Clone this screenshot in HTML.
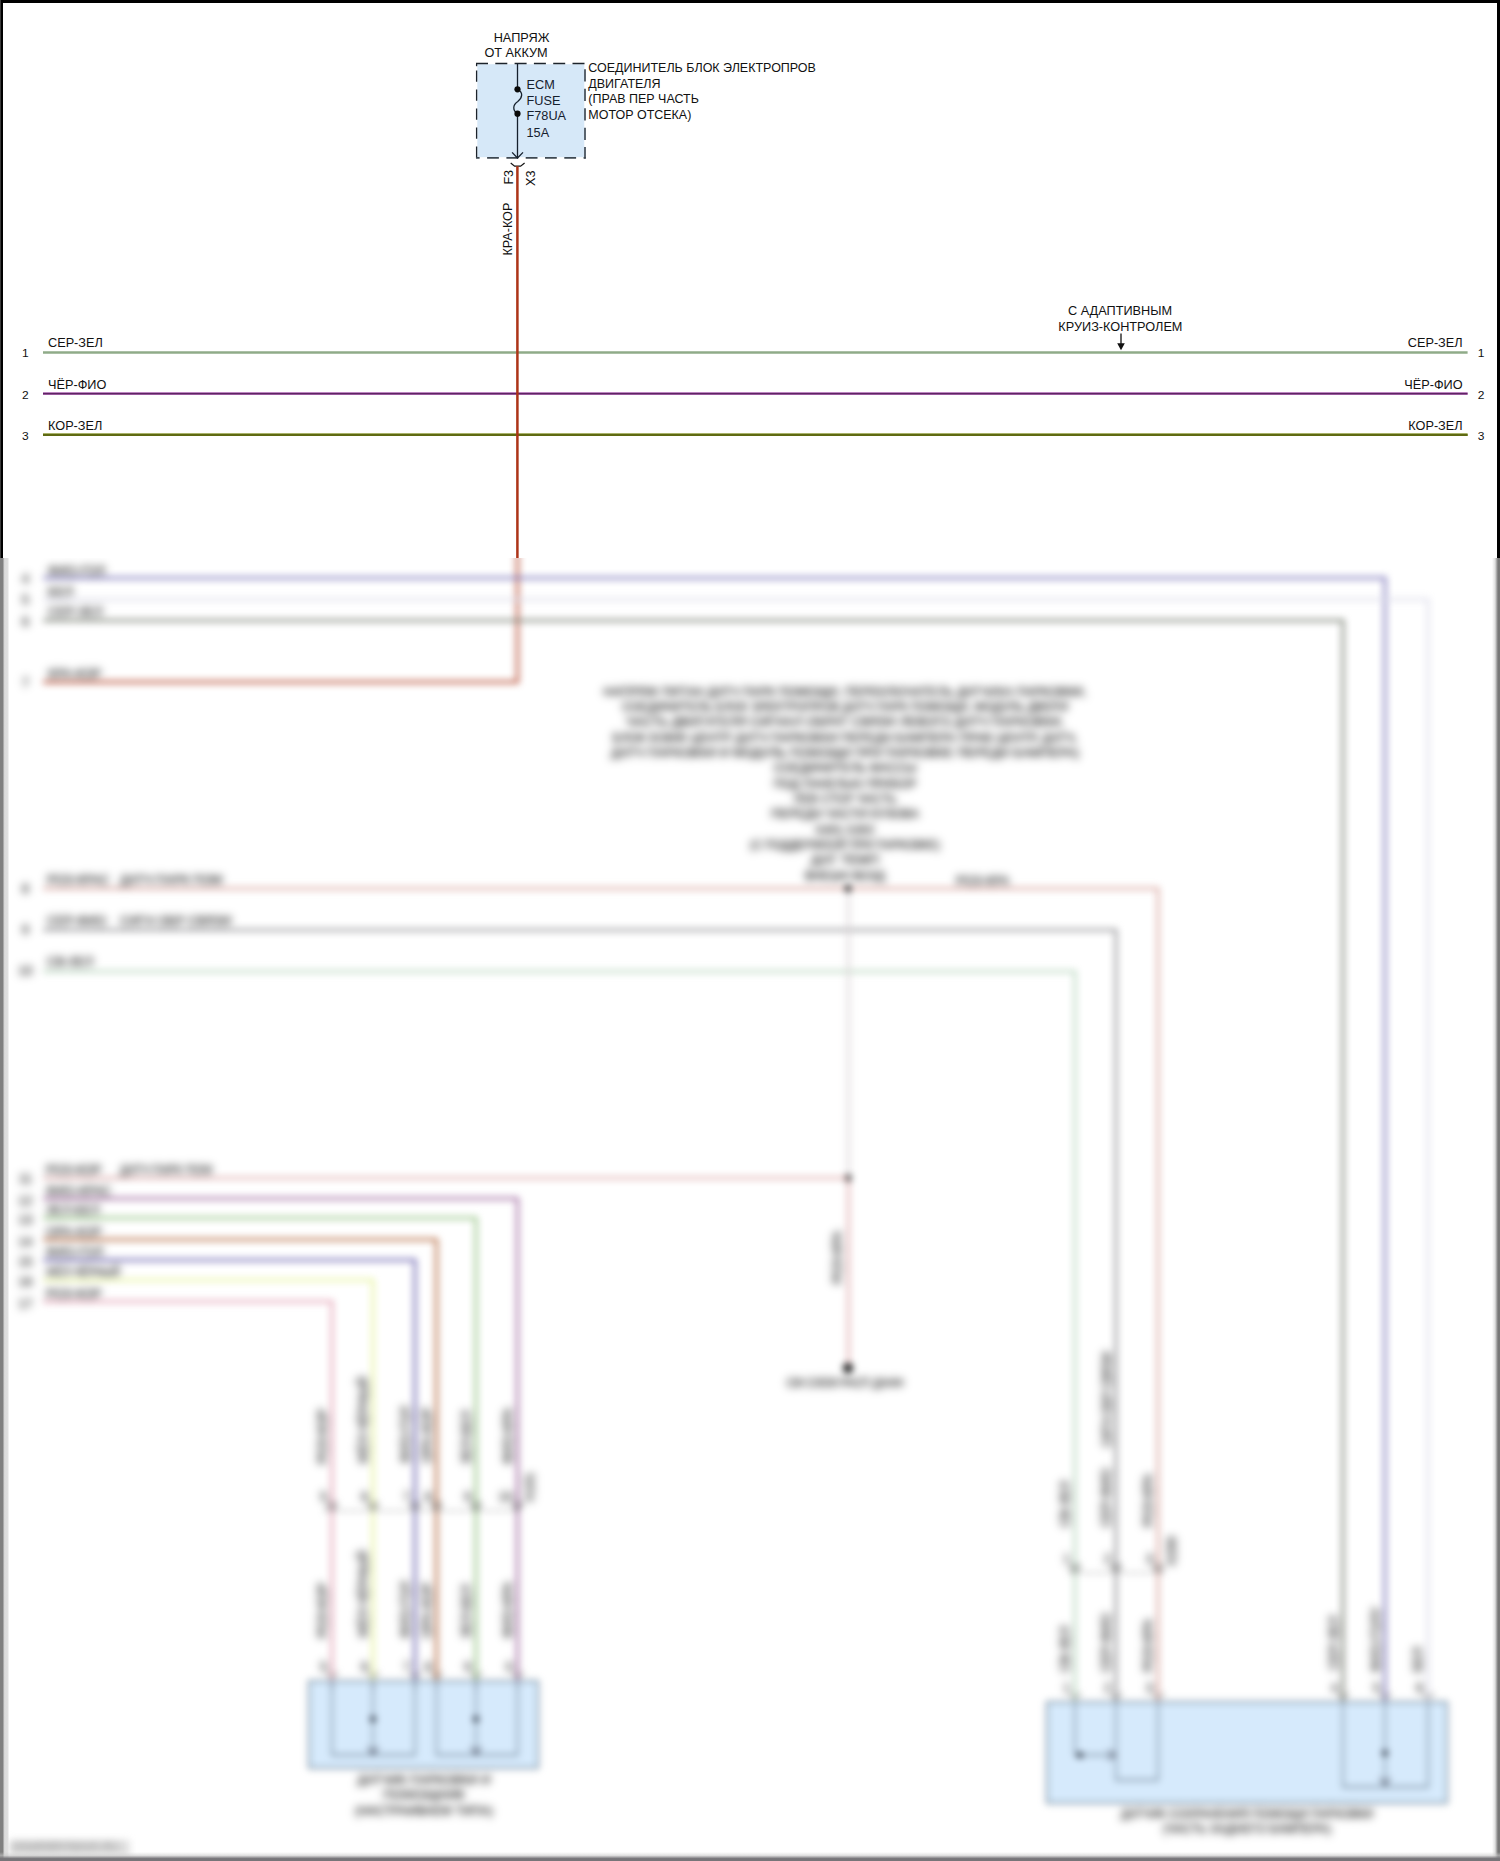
<!DOCTYPE html>
<html><head><meta charset="utf-8"><title>Wiring diagram</title>
<style>
html,body{margin:0;padding:0;background:#fff}
body{width:1500px;height:1861px;position:relative;overflow:hidden;font-family:"Liberation Sans",sans-serif}
svg text{font-family:"Liberation Sans",sans-serif}
.bt text{stroke:#111;stroke-width:0.15px;filter:url(#tb)}
#top{position:absolute;left:0;top:0;width:1500px;height:558px;overflow:hidden}
#bot{position:absolute;left:0;top:558px;width:1500px;height:1303px;overflow:hidden}
#bot .in{position:absolute;left:0;top:-558px;width:1500px;height:1861px}
.bd{position:absolute;background:#000}
</style></head><body>
<div id="top">
<svg width="1500" height="1861" viewBox="0 0 1500 1861" style="position:absolute;left:0;top:0;overflow:visible;">
<rect x="477.3" y="64.2" width="107" height="93" fill="#d6e8f8"/>
<path d="M476 63.5 H585.6" fill="none" stroke="#1c232b" stroke-width="1.3" stroke-dasharray="12 7.3"/>
<path d="M476.6 157.9 V63.5" fill="none" stroke="#1c232b" stroke-width="1.3" stroke-dasharray="11.3 7.75"/>
<path d="M476.6 63.5 V66.2" fill="none" stroke="#1c232b" stroke-width="1.3"/>
<path d="M585 69.3 V158.6" fill="none" stroke="#333f4b" stroke-width="1.6" stroke-dasharray="12.3 7.15"/>
<path d="M476 157.9 H585.8" fill="none" stroke="#3e4852" stroke-width="1.7" stroke-dasharray="11.8 7.5" stroke-dashoffset="8.2"/>
<path d="M517.5 63.3 V89.3" stroke="#15202d" stroke-width="1.3" fill="none"/>
<path d="M517.5 113.7 V157.5" stroke="#15202d" stroke-width="1.3" fill="none"/>
<path d="M517.5 89.3 C523.5 92 522.5 98 517.8 101.5 C512.5 105 512.5 110.5 517.5 113.7" stroke="#15202d" stroke-width="1.3" fill="none"/>
<circle cx="517.5" cy="89.3" r="3.1" fill="#0a0a0a"/>
<circle cx="517.5" cy="113.7" r="3.1" fill="#0a0a0a"/>
<path d="M512.1 152.4 L517.5 158 L523 152.4" stroke="#15202d" stroke-width="1.3" fill="none"/>
<path d="M510.7 163 L514.6 166.2 H520.6 L524.6 163" stroke="#111" stroke-width="1.2" fill="none"/>
<text transform="translate(521.5 42) scale(1.025 1)" text-anchor="middle" font-size="12.4" fill="#111" >НАПРЯЖ</text>
<text transform="translate(516 56.7) scale(1.025 1)" text-anchor="middle" font-size="12.4" fill="#111" >ОТ АККУМ</text>
<text transform="translate(526.5 89.3) scale(1.025 1)" text-anchor="start" font-size="12.4" fill="#15202d" >ECM</text>
<text transform="translate(526.5 104.8) scale(1.025 1)" text-anchor="start" font-size="12.4" fill="#15202d" >FUSE</text>
<text transform="translate(526.5 120.3) scale(1.025 1)" text-anchor="start" font-size="12.4" fill="#15202d" >F78UA</text>
<text transform="translate(526.5 136.7) scale(1.025 1)" text-anchor="start" font-size="12.4" fill="#15202d" >15A</text>
<text transform="translate(588.3 72.2) scale(1 1)" text-anchor="start" font-size="12.4" fill="#111" textLength="227.6" lengthAdjust="spacingAndGlyphs">СОЕДИНИТЕЛЬ БЛОК ЭЛЕКТРОПРОВ</text>
<text transform="translate(588.3 87.7) scale(1 1)" text-anchor="start" font-size="12.4" fill="#111" textLength="72.3" lengthAdjust="spacingAndGlyphs">ДВИГАТЕЛЯ</text>
<text transform="translate(588.3 103.2) scale(1 1)" text-anchor="start" font-size="12.4" fill="#111" textLength="110.6" lengthAdjust="spacingAndGlyphs">(ПРАВ ПЕР ЧАСТЬ</text>
<text transform="translate(588.3 118.7) scale(1 1)" text-anchor="start" font-size="12.4" fill="#111" textLength="103" lengthAdjust="spacingAndGlyphs">МОТОР ОТСЕКА)</text>
<text transform="translate(513.4 184.6) rotate(-90)" text-anchor="start" font-size="12.6" fill="#111">F3</text>
<text transform="translate(534.8 186) rotate(-90)" text-anchor="start" font-size="12.6" fill="#111">X3</text>
<text transform="translate(512.2 255.6) rotate(-90)" text-anchor="start" font-size="12.6" fill="#111">КРА-КОР</text>
<polyline points="43,352.5 1467.6,352.5" fill="none" stroke="#8fab88" stroke-width="2.7" stroke-linejoin="miter" />
<polyline points="43,393.6 1467.6,393.6" fill="none" stroke="#d58ad8" stroke-width="2.8" stroke-linejoin="miter" />
<polyline points="43,393.6 1467.6,393.6" fill="none" stroke="#5e2663" stroke-width="1.7" stroke-linejoin="miter" />
<polyline points="43,434.7 1467.6,434.7" fill="none" stroke="#8c9a3a" stroke-width="2.8" stroke-linejoin="miter" />
<polyline points="43,434.9 1467.6,434.9" fill="none" stroke="#5f6a12" stroke-width="2" stroke-linejoin="miter" />
<text transform="translate(48 347.4) scale(1.025 1)" text-anchor="start" font-size="12.4" fill="#111" >СЕР-ЗЕЛ</text>
<text transform="translate(1462.6 347.4) scale(1.025 1)" text-anchor="end" font-size="12.4" fill="#111" >СЕР-ЗЕЛ</text>
<text transform="translate(48 388.8) scale(1.025 1)" text-anchor="start" font-size="12.4" fill="#111" >ЧЁР-ФИО</text>
<text transform="translate(1462.6 388.8) scale(1.025 1)" text-anchor="end" font-size="12.4" fill="#111" >ЧЁР-ФИО</text>
<text transform="translate(48 430.2) scale(1.025 1)" text-anchor="start" font-size="12.4" fill="#111" >КОР-ЗЕЛ</text>
<text transform="translate(1462.6 430.2) scale(1.025 1)" text-anchor="end" font-size="12.4" fill="#111" >КОР-ЗЕЛ</text>
<text transform="translate(25.4 357.2) scale(1.025 1)" text-anchor="middle" font-size="11.7" fill="#111" >1</text>
<text transform="translate(1481.2 357.2) scale(1.025 1)" text-anchor="middle" font-size="11.7" fill="#111" >1</text>
<text transform="translate(25.4 399.4) scale(1.025 1)" text-anchor="middle" font-size="11.7" fill="#111" >2</text>
<text transform="translate(1481.2 399.4) scale(1.025 1)" text-anchor="middle" font-size="11.7" fill="#111" >2</text>
<text transform="translate(25.4 440.4) scale(1.025 1)" text-anchor="middle" font-size="11.7" fill="#111" >3</text>
<text transform="translate(1481.2 440.4) scale(1.025 1)" text-anchor="middle" font-size="11.7" fill="#111" >3</text>
<text transform="translate(1120 315.1) scale(1.025 1)" text-anchor="middle" font-size="12.4" fill="#111" >С АДАПТИВНЫМ</text>
<text transform="translate(1120.4 330.7) scale(1.025 1)" text-anchor="middle" font-size="12.4" fill="#111" >КРУИЗ-КОНТРОЛЕМ</text>
<path d="M1121 333.5 V345" stroke="#111" stroke-width="1.3"/>
<path d="M1117.2 343.3 H1124.8 L1121 350.3 Z" fill="#111"/>
<polyline points="517.4,166.2 517.4,682 43,682" fill="none" stroke="#ad3418" stroke-width="2.5" stroke-linejoin="miter" />
</svg>
<div class="bd" style="left:0;top:0;width:1500px;height:2.5px"></div>
<div class="bd" style="left:0;top:0;width:2.7px;height:558px"></div>
<div class="bd" style="left:0;top:0;width:0.8px;height:558px;background:#3a3a3a"></div>
<div class="bd" style="left:1497.2px;top:0;width:2.8px;height:558px"></div>
</div>
<div id="bot"><div class="in">
<svg width="1500" height="1861" viewBox="0 0 1500 1861" style="position:absolute;left:0;top:0;overflow:visible;filter:blur(3.5px)">
<rect x="477.3" y="64.2" width="107" height="93" fill="#d6e8f8"/>
<path d="M476 63.5 H585.6" fill="none" stroke="#1c232b" stroke-width="1.3" stroke-dasharray="12 7.3"/>
<path d="M476.6 157.9 V63.5" fill="none" stroke="#1c232b" stroke-width="1.3" stroke-dasharray="11.3 7.75"/>
<path d="M476.6 63.5 V66.2" fill="none" stroke="#1c232b" stroke-width="1.3"/>
<path d="M585 69.3 V158.6" fill="none" stroke="#333f4b" stroke-width="1.6" stroke-dasharray="12.3 7.15"/>
<path d="M476 157.9 H585.8" fill="none" stroke="#3e4852" stroke-width="1.7" stroke-dasharray="11.8 7.5" stroke-dashoffset="8.2"/>
<path d="M517.5 63.3 V89.3" stroke="#15202d" stroke-width="1.3" fill="none"/>
<path d="M517.5 113.7 V157.5" stroke="#15202d" stroke-width="1.3" fill="none"/>
<path d="M517.5 89.3 C523.5 92 522.5 98 517.8 101.5 C512.5 105 512.5 110.5 517.5 113.7" stroke="#15202d" stroke-width="1.3" fill="none"/>
<circle cx="517.5" cy="89.3" r="3.1" fill="#0a0a0a"/>
<circle cx="517.5" cy="113.7" r="3.1" fill="#0a0a0a"/>
<path d="M512.1 152.4 L517.5 158 L523 152.4" stroke="#15202d" stroke-width="1.3" fill="none"/>
<path d="M510.7 163 L514.6 166.2 H520.6 L524.6 163" stroke="#111" stroke-width="1.2" fill="none"/>
<text transform="translate(521.5 42) scale(1.025 1)" text-anchor="middle" font-size="12.4" fill="#111" >НАПРЯЖ</text>
<text transform="translate(516 56.7) scale(1.025 1)" text-anchor="middle" font-size="12.4" fill="#111" >ОТ АККУМ</text>
<text transform="translate(526.5 89.3) scale(1.025 1)" text-anchor="start" font-size="12.4" fill="#15202d" >ECM</text>
<text transform="translate(526.5 104.8) scale(1.025 1)" text-anchor="start" font-size="12.4" fill="#15202d" >FUSE</text>
<text transform="translate(526.5 120.3) scale(1.025 1)" text-anchor="start" font-size="12.4" fill="#15202d" >F78UA</text>
<text transform="translate(526.5 136.7) scale(1.025 1)" text-anchor="start" font-size="12.4" fill="#15202d" >15A</text>
<text transform="translate(588.3 72.2) scale(1 1)" text-anchor="start" font-size="12.4" fill="#111" textLength="227.6" lengthAdjust="spacingAndGlyphs">СОЕДИНИТЕЛЬ БЛОК ЭЛЕКТРОПРОВ</text>
<text transform="translate(588.3 87.7) scale(1 1)" text-anchor="start" font-size="12.4" fill="#111" textLength="72.3" lengthAdjust="spacingAndGlyphs">ДВИГАТЕЛЯ</text>
<text transform="translate(588.3 103.2) scale(1 1)" text-anchor="start" font-size="12.4" fill="#111" textLength="110.6" lengthAdjust="spacingAndGlyphs">(ПРАВ ПЕР ЧАСТЬ</text>
<text transform="translate(588.3 118.7) scale(1 1)" text-anchor="start" font-size="12.4" fill="#111" textLength="103" lengthAdjust="spacingAndGlyphs">МОТОР ОТСЕКА)</text>
<text transform="translate(513.4 184.6) rotate(-90)" text-anchor="start" font-size="12.6" fill="#111">F3</text>
<text transform="translate(534.8 186) rotate(-90)" text-anchor="start" font-size="12.6" fill="#111">X3</text>
<text transform="translate(512.2 255.6) rotate(-90)" text-anchor="start" font-size="12.6" fill="#111">КРА-КОР</text>
<polyline points="43,352.5 1467.6,352.5" fill="none" stroke="#8fab88" stroke-width="2.7" stroke-linejoin="miter" />
<polyline points="43,393.6 1467.6,393.6" fill="none" stroke="#d58ad8" stroke-width="2.8" stroke-linejoin="miter" />
<polyline points="43,393.6 1467.6,393.6" fill="none" stroke="#5e2663" stroke-width="1.7" stroke-linejoin="miter" />
<polyline points="43,434.7 1467.6,434.7" fill="none" stroke="#8c9a3a" stroke-width="2.8" stroke-linejoin="miter" />
<polyline points="43,434.9 1467.6,434.9" fill="none" stroke="#5f6a12" stroke-width="2" stroke-linejoin="miter" />
<text transform="translate(48 347.4) scale(1.025 1)" text-anchor="start" font-size="12.4" fill="#111" >СЕР-ЗЕЛ</text>
<text transform="translate(1462.6 347.4) scale(1.025 1)" text-anchor="end" font-size="12.4" fill="#111" >СЕР-ЗЕЛ</text>
<text transform="translate(48 388.8) scale(1.025 1)" text-anchor="start" font-size="12.4" fill="#111" >ЧЁР-ФИО</text>
<text transform="translate(1462.6 388.8) scale(1.025 1)" text-anchor="end" font-size="12.4" fill="#111" >ЧЁР-ФИО</text>
<text transform="translate(48 430.2) scale(1.025 1)" text-anchor="start" font-size="12.4" fill="#111" >КОР-ЗЕЛ</text>
<text transform="translate(1462.6 430.2) scale(1.025 1)" text-anchor="end" font-size="12.4" fill="#111" >КОР-ЗЕЛ</text>
<text transform="translate(25.4 357.2) scale(1.025 1)" text-anchor="middle" font-size="11.7" fill="#111" >1</text>
<text transform="translate(1481.2 357.2) scale(1.025 1)" text-anchor="middle" font-size="11.7" fill="#111" >1</text>
<text transform="translate(25.4 399.4) scale(1.025 1)" text-anchor="middle" font-size="11.7" fill="#111" >2</text>
<text transform="translate(1481.2 399.4) scale(1.025 1)" text-anchor="middle" font-size="11.7" fill="#111" >2</text>
<text transform="translate(25.4 440.4) scale(1.025 1)" text-anchor="middle" font-size="11.7" fill="#111" >3</text>
<text transform="translate(1481.2 440.4) scale(1.025 1)" text-anchor="middle" font-size="11.7" fill="#111" >3</text>
<text transform="translate(1120 315.1) scale(1.025 1)" text-anchor="middle" font-size="12.4" fill="#111" >С АДАПТИВНЫМ</text>
<text transform="translate(1120.4 330.7) scale(1.025 1)" text-anchor="middle" font-size="12.4" fill="#111" >КРУИЗ-КОНТРОЛЕМ</text>
<path d="M1121 333.5 V345" stroke="#111" stroke-width="1.3"/>
<path d="M1117.2 343.3 H1124.8 L1121 350.3 Z" fill="#111"/>
<polyline points="517.4,166.2 517.4,682 43,682" fill="none" stroke="#ad3418" stroke-width="2.5" stroke-linejoin="miter" />
<defs><filter id="tb" x="-50%" y="-300%" width="200%" height="700%" filterUnits="objectBoundingBox"><feGaussianBlur stdDeviation="2.4"/></filter></defs>
<g class="bt">
<polyline points="43,578 1385,578 1385,1702" fill="none" stroke="#6f69b4" stroke-width="2.6" stroke-linejoin="miter" />
<polyline points="43,599.5 1428,599.5 1428,1702" fill="none" stroke="#dcdcea" stroke-width="2.6" stroke-linejoin="miter" />
<polyline points="43,620.5 1343,620.5 1343,1702" fill="none" stroke="#72786b" stroke-width="2.6" stroke-linejoin="miter" />
<text transform="translate(48 575) scale(1.025 1)" text-anchor="start" font-size="12.4" fill="#111" >ФИО-ГОЛ</text>
<text transform="translate(25.4 583) scale(1.025 1)" text-anchor="middle" font-size="12" fill="#111" >4</text>
<text transform="translate(48 595.5) scale(1.025 1)" text-anchor="start" font-size="12.4" fill="#111" >БЕЛ</text>
<text transform="translate(25.4 604) scale(1.025 1)" text-anchor="middle" font-size="12" fill="#111" >5</text>
<text transform="translate(48 616) scale(1.025 1)" text-anchor="start" font-size="12.4" fill="#111" >СЕР-ЗЕЛ</text>
<text transform="translate(25.4 625.5) scale(1.025 1)" text-anchor="middle" font-size="12" fill="#111" >6</text>
<text transform="translate(48 678.4) scale(1.025 1)" text-anchor="start" font-size="12.4" fill="#111" >КРА-КОР</text>
<text transform="translate(25.4 687) scale(1.025 1)" text-anchor="middle" font-size="12" fill="#111" >7</text>
<text transform="translate(845 695.5) scale(1 1)" text-anchor="middle" font-size="12.4" fill="#111" textLength="483" lengthAdjust="spacingAndGlyphs">НАПРЯЖ ПИТАН ДАТЧ ПАРК ПОМОЩИ, ПЕРЕКЛЮЧАТЕЛЬ ДАТЧИКА ПАРКОВКИ,</text>
<text transform="translate(845 710.85) scale(1 1)" text-anchor="middle" font-size="12.4" fill="#111" textLength="446" lengthAdjust="spacingAndGlyphs">СОЕДИНИТЕЛЬ БЛОК ЭЛЕКТРОПРОВ ДАТЧ ПАРК ПОМОЩИ, МОДУЛЬ ДВЕРИ</text>
<text transform="translate(845 726.2) scale(1 1)" text-anchor="middle" font-size="12.4" fill="#111" textLength="438" lengthAdjust="spacingAndGlyphs">ЧАСТЬ ДВИГАТЕЛЯ СИГНАЛ ОБРАТ СВЯЗИ ЛЕВОГО ДАТЧ ПАРКОВКИ,</text>
<text transform="translate(845 741.55) scale(1 1)" text-anchor="middle" font-size="12.4" fill="#111" textLength="465" lengthAdjust="spacingAndGlyphs">БЛОК КОМФ ЦЕНТР ДАТЧ ПАРКОВКИ ПЕРЕДН БАМПЕРА ПРАВ ЦЕНТР, ДАТЧ,</text>
<text transform="translate(845 756.9) scale(1 1)" text-anchor="middle" font-size="12.4" fill="#111" textLength="468" lengthAdjust="spacingAndGlyphs">ДАТЧ ПАРКОВКИ И МОДУЛЬ ПОМОЩИ ПРИ ПАРКОВКЕ ПЕРЕДН БАМПЕРА)</text>
<text transform="translate(845 772.25) scale(1 1)" text-anchor="middle" font-size="12.4" fill="#111" textLength="143" lengthAdjust="spacingAndGlyphs">СОЕДИНИТЕЛЬ МАССЫ</text>
<text transform="translate(845 787.6) scale(1 1)" text-anchor="middle" font-size="12.4" fill="#111" textLength="143" lengthAdjust="spacingAndGlyphs">ПОД ПАНЕЛЬЮ ПРИБОР</text>
<text transform="translate(845 802.95) scale(1 1)" text-anchor="middle" font-size="12.4" fill="#111" textLength="103" lengthAdjust="spacingAndGlyphs">ЛЕВ СТОР ЧАСТЬ</text>
<text transform="translate(845 818.3) scale(1 1)" text-anchor="middle" font-size="12.4" fill="#111" textLength="148" lengthAdjust="spacingAndGlyphs">ПЕРЕДН ЧАСТИ КУЗОВА</text>
<text transform="translate(845 833.65) scale(1 1)" text-anchor="middle" font-size="12.4" fill="#111" textLength="59" lengthAdjust="spacingAndGlyphs">G301 G302</text>
<text transform="translate(845 849.0) scale(1 1)" text-anchor="middle" font-size="12.4" fill="#111" textLength="190" lengthAdjust="spacingAndGlyphs">(С ПОДДЕРЖКОЙ ПРИ ПАРКОВКЕ)</text>
<text transform="translate(845 864.35) scale(1 1)" text-anchor="middle" font-size="12.4" fill="#111" textLength="68" lengthAdjust="spacingAndGlyphs">ДАТ ТЕМП</text>
<text transform="translate(845 879.7) scale(1 1)" text-anchor="middle" font-size="12.4" fill="#111" textLength="80" lengthAdjust="spacingAndGlyphs">ВНЕШН ВОЗД</text>
<polyline points="43,888.5 1158,888.5 1158,1702" fill="none" stroke="#d8a39c" stroke-width="2.6" stroke-linejoin="miter" />
<polyline points="43,930 1116,930 1116,1702" fill="none" stroke="#8c8c90" stroke-width="2.6" stroke-linejoin="miter" />
<polyline points="43,971.5 1075,971.5 1075,1702" fill="none" stroke="#b4d4ba" stroke-width="2.6" stroke-linejoin="miter" />
<text transform="translate(47 883.5) scale(1.025 1)" text-anchor="start" font-size="12.4" fill="#111" >РОЗ-КРАС</text>
<text transform="translate(120 883.5) scale(1.025 1)" text-anchor="start" font-size="12.4" fill="#111" >ДАТЧ ПАРК ПОМ</text>
<text transform="translate(47 924.5) scale(1.025 1)" text-anchor="start" font-size="12.4" fill="#111" >СЕР-ФИО</text>
<text transform="translate(120 924.5) scale(1.025 1)" text-anchor="start" font-size="12.4" fill="#111" >СИГН ОБР СВЯЗИ</text>
<text transform="translate(47 965.5) scale(1.025 1)" text-anchor="start" font-size="12.4" fill="#111" >СВ-ЗЕЛ</text>
<text transform="translate(956 885) scale(1.025 1)" text-anchor="start" font-size="12.4" fill="#111" >РОЗ-КРА</text>
<text transform="translate(25.4 893) scale(1.025 1)" text-anchor="middle" font-size="12" fill="#111" >8</text>
<text transform="translate(25.4 934) scale(1.025 1)" text-anchor="middle" font-size="12" fill="#111" >9</text>
<text transform="translate(25.4 975) scale(1.025 1)" text-anchor="middle" font-size="12" fill="#111" >10</text>
<polyline points="848.5,888 848.5,1178" fill="none" stroke="#d8d2d4" stroke-width="2.6" stroke-linejoin="miter" />
<polyline points="848.5,1178 848.5,1368" fill="none" stroke="#dea6a8" stroke-width="2.6" stroke-linejoin="miter" />
<circle cx="848" cy="888.5" r="3.4" fill="#222"/>
<circle cx="848" cy="1178" r="3.4" fill="#222"/>
<circle cx="848" cy="1368" r="5.2" fill="#222"/>
<text transform="translate(841.5 1284) rotate(-90)" text-anchor="start" font-size="12.6" fill="#111">РОЗ-КРА</text>
<text transform="translate(845 1387) scale(1 1)" text-anchor="middle" font-size="12.4" fill="#111" textLength="117" lengthAdjust="spacingAndGlyphs">СМ СХЕМ РАСП ДАНН</text>
<polyline points="43,1178 848,1178" fill="none" stroke="#dca9a9" stroke-width="2.6" stroke-linejoin="miter" />
<polyline points="43,1198.5 517.5,1198.5 517.5,1681" fill="none" stroke="#985d98" stroke-width="2.6" stroke-linejoin="miter" />
<polyline points="43,1218 476,1218 476,1681" fill="none" stroke="#8abd78" stroke-width="2.6" stroke-linejoin="miter" />
<polyline points="43,1239.5 436.5,1239.5 436.5,1681" fill="none" stroke="#b05e30" stroke-width="2.6" stroke-linejoin="miter" />
<polyline points="43,1260 415,1260 415,1681" fill="none" stroke="#5d54a8" stroke-width="2.6" stroke-linejoin="miter" />
<polyline points="43,1280 373,1280 373,1681" fill="none" stroke="#e4f294" stroke-width="2.6" stroke-linejoin="miter" />
<polyline points="43,1301.5 332,1301.5 332,1681" fill="none" stroke="#e29cb0" stroke-width="2.6" stroke-linejoin="miter" />
<text transform="translate(46 1173.5) scale(1.025 1)" text-anchor="start" font-size="12.4" fill="#111" >РОЗ-КОР</text>
<text transform="translate(120 1173.5) scale(1 1)" text-anchor="start" font-size="12.4" fill="#111" textLength="92" lengthAdjust="spacingAndGlyphs">ДАТЧ ПАРК ПОМ</text>
<text transform="translate(25.4 1183) scale(1.025 1)" text-anchor="middle" font-size="12" fill="#111" >11</text>
<text transform="translate(46 1194.5) scale(1.025 1)" text-anchor="start" font-size="12.4" fill="#111" >ФИО-КРАС</text>
<text transform="translate(25.4 1204.5) scale(1.025 1)" text-anchor="middle" font-size="12" fill="#111" >12</text>
<text transform="translate(46 1214) scale(1.025 1)" text-anchor="start" font-size="12.4" fill="#111" >ЗЕЛ-БЕЛ</text>
<text transform="translate(25.4 1224) scale(1.025 1)" text-anchor="middle" font-size="12" fill="#111" >13</text>
<text transform="translate(46 1235.5) scale(1.025 1)" text-anchor="start" font-size="12.4" fill="#111" >ОРА-КОР</text>
<text transform="translate(25.4 1245.5) scale(1.025 1)" text-anchor="middle" font-size="12" fill="#111" >14</text>
<text transform="translate(46 1256) scale(1.025 1)" text-anchor="start" font-size="12.4" fill="#111" >ФИО-ГОЛ</text>
<text transform="translate(25.4 1266) scale(1.025 1)" text-anchor="middle" font-size="12" fill="#111" >15</text>
<text transform="translate(46 1276) scale(1 1)" text-anchor="start" font-size="12.4" fill="#111" textLength="74" lengthAdjust="spacingAndGlyphs">ЖЁЛ-ЧЁРНЫЙ</text>
<text transform="translate(25.4 1286) scale(1.025 1)" text-anchor="middle" font-size="12" fill="#111" >16</text>
<text transform="translate(46 1297.5) scale(1.025 1)" text-anchor="start" font-size="12.4" fill="#111" >РОЗ-КОР</text>
<text transform="translate(25.4 1307.5) scale(1.025 1)" text-anchor="middle" font-size="12" fill="#111" >17</text>
<rect x="309" y="1681" width="229" height="87" fill="#d6eafc" stroke="#6d8498" stroke-width="1.8"/>
<path d="M332 1681 V1690" stroke="#556" stroke-width="1.3"/>
<path d="M373 1681 V1690" stroke="#556" stroke-width="1.3"/>
<path d="M415 1681 V1690" stroke="#556" stroke-width="1.3"/>
<path d="M436.5 1681 V1690" stroke="#556" stroke-width="1.3"/>
<path d="M476 1681 V1690" stroke="#556" stroke-width="1.3"/>
<path d="M517.5 1681 V1690" stroke="#556" stroke-width="1.3"/>
<path d="M332 1681 V1755 H415 V1681 M436.5 1681 V1755 H517.5 V1681 M373 1681 V1752 M476 1681 V1752" stroke="#5f7080" stroke-width="1.3" fill="none"/>
<circle cx="373" cy="1719" r="3.1" fill="#2a3340"/><circle cx="476" cy="1719" r="3.1" fill="#2a3340"/>
<path d="M368 1747 L373 1754 L378 1747 M471 1747 L476 1754 L481 1747" stroke="#334" stroke-width="1.4" fill="none"/>
<text transform="translate(326.5 1464) rotate(-90)" text-anchor="start" font-size="12.6" fill="#111">РОЗ-КОР</text>
<text transform="translate(326.5 1638) rotate(-90)" text-anchor="start" font-size="12.6" fill="#111">РОЗ-КОР</text>
<text transform="translate(367.5 1464) rotate(-90)" text-anchor="start" font-size="12.6" fill="#111">ЖЁЛ-ЧЁРНЫЙ</text>
<text transform="translate(367.5 1638) rotate(-90)" text-anchor="start" font-size="12.6" fill="#111">ЖЁЛ-ЧЁРНЫЙ</text>
<text transform="translate(409.5 1463) rotate(-90)" text-anchor="start" font-size="12.6" fill="#111">ФИО-ГОЛ</text>
<text transform="translate(409.5 1638) rotate(-90)" text-anchor="start" font-size="12.6" fill="#111">ФИО-ГОЛ</text>
<text transform="translate(431.0 1463) rotate(-90)" text-anchor="start" font-size="12.6" fill="#111">ОРА-КОР</text>
<text transform="translate(431.0 1638) rotate(-90)" text-anchor="start" font-size="12.6" fill="#111">ОРА-КОР</text>
<text transform="translate(470.5 1464) rotate(-90)" text-anchor="start" font-size="12.6" fill="#111">ЗЕЛ-БЕЛ</text>
<text transform="translate(470.5 1638) rotate(-90)" text-anchor="start" font-size="12.6" fill="#111">ЗЕЛ-БЕЛ</text>
<text transform="translate(512.0 1464) rotate(-90)" text-anchor="start" font-size="12.6" fill="#111">ФИО-КРА</text>
<text transform="translate(512.0 1638) rotate(-90)" text-anchor="start" font-size="12.6" fill="#111">ФИО-КРА</text>
<text transform="translate(327 1501) scale(1.025 1)" text-anchor="end" font-size="12" fill="#111" >5</text>
<path d="M326 1505 L330 1509 H334 L338 1505 M327 1501 L332 1506 L337 1501" stroke="#555" stroke-width="1.1" fill="none"/>
<text transform="translate(327 1671) scale(1.025 1)" text-anchor="end" font-size="12" fill="#111" >5</text>
<path d="M326 1672 L330 1676 H334 L338 1672" stroke="#555" stroke-width="1.1" fill="none"/>
<text transform="translate(368 1501) scale(1.025 1)" text-anchor="end" font-size="12" fill="#111" >6</text>
<path d="M367 1505 L371 1509 H375 L379 1505 M368 1501 L373 1506 L378 1501" stroke="#555" stroke-width="1.1" fill="none"/>
<text transform="translate(368 1671) scale(1.025 1)" text-anchor="end" font-size="12" fill="#111" >6</text>
<path d="M367 1672 L371 1676 H375 L379 1672" stroke="#555" stroke-width="1.1" fill="none"/>
<text transform="translate(410 1501) scale(1.025 1)" text-anchor="end" font-size="12" fill="#111" >7</text>
<path d="M409 1505 L413 1509 H417 L421 1505 M410 1501 L415 1506 L420 1501" stroke="#555" stroke-width="1.1" fill="none"/>
<text transform="translate(410 1671) scale(1.025 1)" text-anchor="end" font-size="12" fill="#111" >7</text>
<path d="M409 1672 L413 1676 H417 L421 1672" stroke="#555" stroke-width="1.1" fill="none"/>
<text transform="translate(431.5 1501) scale(1.025 1)" text-anchor="end" font-size="12" fill="#111" >8</text>
<path d="M430.5 1505 L434.5 1509 H438.5 L442.5 1505 M431.5 1501 L436.5 1506 L441.5 1501" stroke="#555" stroke-width="1.1" fill="none"/>
<text transform="translate(431.5 1671) scale(1.025 1)" text-anchor="end" font-size="12" fill="#111" >8</text>
<path d="M430.5 1672 L434.5 1676 H438.5 L442.5 1672" stroke="#555" stroke-width="1.1" fill="none"/>
<text transform="translate(471 1501) scale(1.025 1)" text-anchor="end" font-size="12" fill="#111" >9</text>
<path d="M470 1505 L474 1509 H478 L482 1505 M471 1501 L476 1506 L481 1501" stroke="#555" stroke-width="1.1" fill="none"/>
<text transform="translate(471 1671) scale(1.025 1)" text-anchor="end" font-size="12" fill="#111" >9</text>
<path d="M470 1672 L474 1676 H478 L482 1672" stroke="#555" stroke-width="1.1" fill="none"/>
<text transform="translate(512.5 1501) scale(1.025 1)" text-anchor="end" font-size="12" fill="#111" >10</text>
<path d="M511.5 1505 L515.5 1509 H519.5 L523.5 1505 M512.5 1501 L517.5 1506 L522.5 1501" stroke="#555" stroke-width="1.1" fill="none"/>
<text transform="translate(512.5 1671) scale(1.025 1)" text-anchor="end" font-size="12" fill="#111" >0</text>
<path d="M511.5 1672 L515.5 1676 H519.5 L523.5 1672" stroke="#555" stroke-width="1.1" fill="none"/>
<path d="M324 1511 H522" stroke="#555" stroke-width="1" stroke-dasharray="5 4"/>
<text transform="translate(534 1502) rotate(-90)" text-anchor="start" font-size="12.6" fill="#111">X101</text>
<text transform="translate(424 1783.5) scale(1 1)" text-anchor="middle" font-size="12.4" fill="#111" textLength="133" lengthAdjust="spacingAndGlyphs">ДАТЧИК ПАРКОВКИ И</text>
<text transform="translate(424 1799.0) scale(1 1)" text-anchor="middle" font-size="12.4" fill="#111" textLength="82" lengthAdjust="spacingAndGlyphs">ПОМОЩНИК</text>
<text transform="translate(424 1814.5) scale(1 1)" text-anchor="middle" font-size="12.4" fill="#111" textLength="138" lengthAdjust="spacingAndGlyphs">(НАСТРАИВАЕМ ТИПА)</text>
<rect x="1047" y="1702" width="400" height="101" fill="#d6eafc" stroke="#6d8498" stroke-width="1.8"/>
<path d="M1075 1702 V1755 H1112 M1116 1702 V1780 H1158 V1702 M1343 1702 V1787 H1428 V1702 M1385 1702 V1783" stroke="#5f7080" stroke-width="1.3" fill="none"/>
<circle cx="1080" cy="1755" r="3.1" fill="#2a3340"/><circle cx="1385" cy="1753" r="3.1" fill="#2a3340"/>
<path d="M1108 1750 L1115 1755 L1108 1760 M1380 1778 L1385 1785 L1390 1778" stroke="#334" stroke-width="1.4" fill="none"/>
<text transform="translate(1111 1447) rotate(-90)" font-size="12.6" fill="#111" textLength="95" lengthAdjust="spacingAndGlyphs">СИГН ОБР СВЯЗИ</text>
<text transform="translate(1069.2 1527) rotate(-90)" text-anchor="start" font-size="12.6" fill="#111">СВ-ЗЕЛ</text>
<text transform="translate(1069.2 1672) rotate(-90)" text-anchor="start" font-size="12.6" fill="#111">СВ-ЗЕЛ</text>
<text transform="translate(1110.2 1527) rotate(-90)" text-anchor="start" font-size="12.6" fill="#111">СЕР-ФИО</text>
<text transform="translate(1110.2 1672) rotate(-90)" text-anchor="start" font-size="12.6" fill="#111">СЕР-ФИО</text>
<text transform="translate(1152.2 1527) rotate(-90)" text-anchor="start" font-size="12.6" fill="#111">РОЗ-КРА</text>
<text transform="translate(1152.2 1672) rotate(-90)" text-anchor="start" font-size="12.6" fill="#111">РОЗ-КРА</text>
<text transform="translate(1338.0 1670) rotate(-90)" text-anchor="start" font-size="12.6" fill="#111">СЕР-ЗЕЛ</text>
<text transform="translate(1380.0 1672) rotate(-90)" text-anchor="start" font-size="12.6" fill="#111">ФИО-ГОЛУ</text>
<text transform="translate(1422.0 1672) rotate(-90)" text-anchor="start" font-size="12.6" fill="#111">БЕЛ</text>
<text transform="translate(1070 1563) scale(1.025 1)" text-anchor="end" font-size="12" fill="#111" >1</text>
<path d="M1069 1567 L1073 1571 H1077 L1081 1567 M1070 1563 L1075 1568 L1080 1563" stroke="#555" stroke-width="1.1" fill="none"/>
<text transform="translate(1111 1563) scale(1.025 1)" text-anchor="end" font-size="12" fill="#111" >2</text>
<path d="M1110 1567 L1114 1571 H1118 L1122 1567 M1111 1563 L1116 1568 L1121 1563" stroke="#555" stroke-width="1.1" fill="none"/>
<text transform="translate(1153 1563) scale(1.025 1)" text-anchor="end" font-size="12" fill="#111" >3</text>
<path d="M1152 1567 L1156 1571 H1160 L1164 1567 M1153 1563 L1158 1568 L1163 1563" stroke="#555" stroke-width="1.1" fill="none"/>
<path d="M1069 1573 H1164" stroke="#555" stroke-width="1" stroke-dasharray="5 4"/>
<text transform="translate(1176 1566) rotate(-90)" text-anchor="start" font-size="12.6" fill="#111">X200</text>
<text transform="translate(1070 1692) scale(1.025 1)" text-anchor="end" font-size="12" fill="#111" >1</text>
<path d="M1069 1693 L1073 1697 H1077 L1081 1693" stroke="#555" stroke-width="1.1" fill="none"/>
<text transform="translate(1111 1692) scale(1.025 1)" text-anchor="end" font-size="12" fill="#111" >2</text>
<path d="M1110 1693 L1114 1697 H1118 L1122 1693" stroke="#555" stroke-width="1.1" fill="none"/>
<text transform="translate(1153 1692) scale(1.025 1)" text-anchor="end" font-size="12" fill="#111" >3</text>
<path d="M1152 1693 L1156 1697 H1160 L1164 1693" stroke="#555" stroke-width="1.1" fill="none"/>
<text transform="translate(1338 1692) scale(1.025 1)" text-anchor="end" font-size="12" fill="#111" >4</text>
<path d="M1337 1693 L1341 1697 H1345 L1349 1693" stroke="#555" stroke-width="1.1" fill="none"/>
<text transform="translate(1380 1692) scale(1.025 1)" text-anchor="end" font-size="12" fill="#111" >5</text>
<path d="M1379 1693 L1383 1697 H1387 L1391 1693" stroke="#555" stroke-width="1.1" fill="none"/>
<text transform="translate(1423 1692) scale(1.025 1)" text-anchor="end" font-size="12" fill="#111" >6</text>
<path d="M1422 1693 L1426 1697 H1430 L1434 1693" stroke="#555" stroke-width="1.1" fill="none"/>
<text transform="translate(1247 1817.5) scale(1 1)" text-anchor="middle" font-size="12.4" fill="#111" textLength="252" lengthAdjust="spacingAndGlyphs">ДАТЧИК СОХРАНЕНИЯ ПОМОЩИ ПАРКОВКИ</text>
<text transform="translate(1247 1833) scale(1 1)" text-anchor="middle" font-size="12.4" fill="#111" textLength="168" lengthAdjust="spacingAndGlyphs">(ЧАСТЬ ЗАДНЕГО БАМПЕРА)</text>
<rect x="9" y="1840" width="121" height="17" fill="#e2e2e2"/>
<text transform="translate(12 1848.5) scale(1 1)" text-anchor="start" font-size="9" fill="#8a8a8a" textLength="108" lengthAdjust="spacingAndGlyphs">2024/03/07SAVE-RU</text>
</g>
</svg>
</div>
<div style="position:absolute;left:0;top:0;width:10px;height:100%;background:linear-gradient(to right,#808080 0,#808080 2.6px,#dcdcdc 4.6px,#dedede 7.4px,rgba(255,255,255,0) 9.4px)"></div>
<div style="position:absolute;right:0;top:0;width:8px;height:100%;background:linear-gradient(to left,#787878 0,#787878 2px,rgba(200,200,200,.55) 5px,rgba(255,255,255,0) 8px)"></div>
<div style="position:absolute;left:0;bottom:0;width:100%;height:9px;background:linear-gradient(to top,#777579 0,#777579 2.4px,rgba(200,200,200,.55) 5.6px,rgba(255,255,255,0) 9px)"></div>
</div>
</body></html>
